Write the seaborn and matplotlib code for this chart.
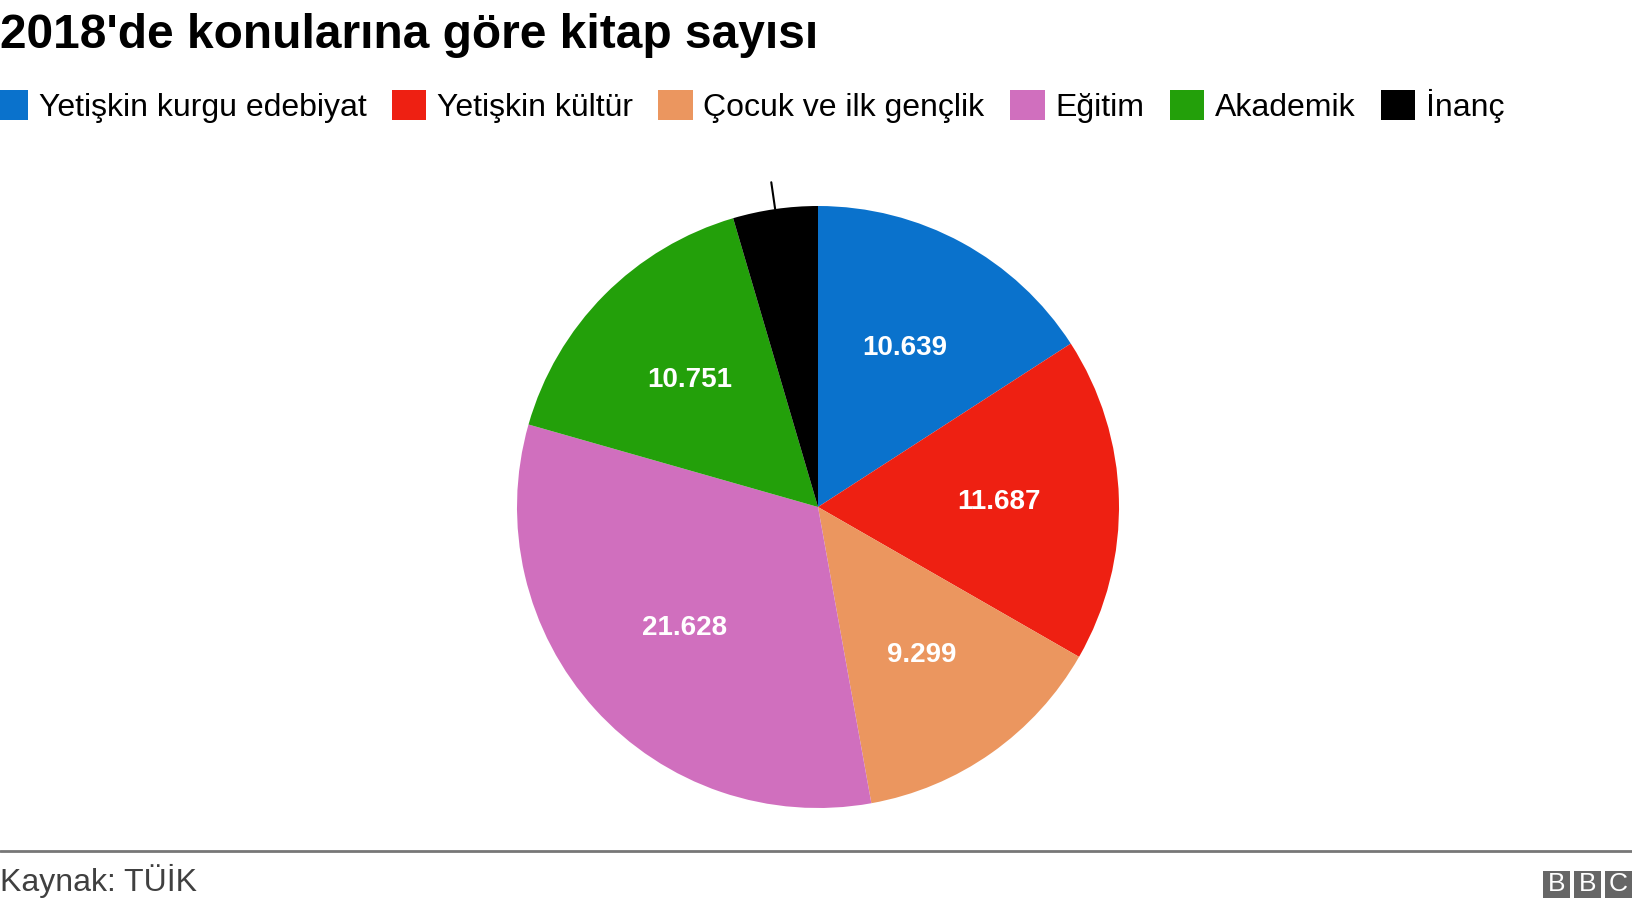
import numpy as np
import matplotlib
matplotlib.use('Agg')
import matplotlib.pyplot as plt
import seaborn as sns
from matplotlib.patches import Patch, Rectangle
from matplotlib.lines import Line2D

# Data
categories = ["Yetişkin kurgu edebiyat", "Yetişkin kültür", "Çocuk ve ilk gençlik",
              "Eğitim", "Akademik", "İnanç"]
values = [10639, 11687, 9299, 21628, 10751, 3050]
value_labels = ["10.639", "11.687", "9.299", "21.628", "10.751", ""]
colors = ["#0a72cc", "#ee2012", "#eb965f", "#d06fbe", "#23a00a", "#000000"]

title = "2018'de konularına göre kitap sayısı"
source = "Kaynak: TÜİK"

sns.set_theme(style="white")
plt.rcParams['font.family'] = ['Liberation Sans', 'DejaVu Sans']
plt.rcParams['text.color'] = 'black'
palette = sns.color_palette(colors)

W, H = 1632, 908
fig = plt.figure(figsize=(W / 100, H / 100), dpi=100)

# Pie
cx, cy, r = 818, 507, 301
ax = fig.add_axes([(cx - r) / W, (H - cy - r) / H, 2 * r / W, 2 * r / H])
wedges, texts = ax.pie(values, colors=palette, startangle=90, counterclock=False,
                       labels=value_labels, labeldistance=0.6,
                       wedgeprops=dict(linewidth=0),
                       textprops=dict(color='white', fontsize=20, fontweight='bold',
                                      ha='center', va='center'))
ax.set_xlim(-1, 1)
ax.set_ylim(-1, 1)
ax.set_aspect('equal')
ax.axis('off')

# leader line for the small slice (no label)
w = wedges[-1]
mid = np.deg2rad((w.theta1 + w.theta2) / 2)
ax.plot([np.cos(mid) * 1.0, np.cos(mid) * 1.09], [np.sin(mid) * 1.0, np.sin(mid) * 1.09],
        color='black', lw=1.5, clip_on=False)

# Title
fig.text(0, (H - 48) / H, title, fontsize=34.5, fontweight='bold', color='black',
         ha='left', va='baseline')

# Legend
handles = [Patch(facecolor=c, edgecolor='none') for c in colors]
leg = fig.legend(handles, categories, loc='center left', bbox_to_anchor=(-0.004, (H - 106) / H),
                 ncol=6, frameon=False, fontsize=23, handlelength=1.08, handleheight=1.08,
                 handletextpad=0.33, columnspacing=0.8, borderpad=0, borderaxespad=0)
for t in leg.get_texts():
    t.set_color('black')

# Footer
fig.add_artist(Line2D([0, 1], [(H - 851) / H] * 2, color='#777777', lw=2))
fig.text(0, (H - 881) / H, source, fontsize=23, color='#404040', ha='left', va='center')

# BBC logo
box = 27
gap = 4
x0 = W - 3 * box - 2 * gap
for i, letter in enumerate("BBC"):
    x = x0 + i * (box + gap)
    fig.add_artist(Rectangle((x / W, (H - 898) / H), box / W, box / H,
                             facecolor='#666666', edgecolor='none'))
    fig.text((x + box / 2) / W, (H - 884) / H, letter, color='white', fontsize=19,
             ha='center', va='center')

fig.savefig("out.png", dpi=100, facecolor='white')
